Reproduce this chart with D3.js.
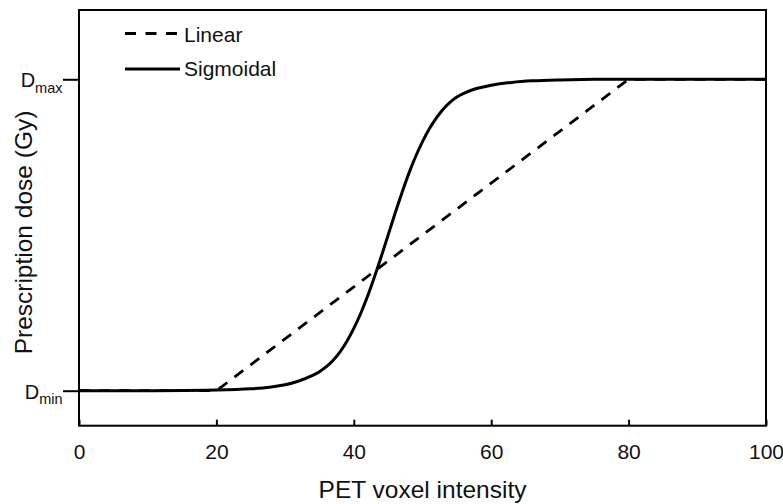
<!DOCTYPE html>
<html>
<head>
<meta charset="utf-8">
<script src="https://cdn.jsdelivr.net/npm/d3@7"></script>
<style>
  html, body { margin: 0; padding: 0; background: #fff; }
  svg { display: block; font-family: "Liberation Sans", Arial, sans-serif; }
</style>
</head>
<body>
<svg id="chart" width="783" height="504"></svg>
<script>
// ---- data ----
const xTicks = [0, 20, 40, 60, 80, 100];
const yTickValues = [0, 1];
const yTickMain = ["D", "D"];
const yTickSub = ["min", "max"];

const linearX = [0, 20, 80, 100];
const linearY = [0, 0, 1, 1];

const sigmoidX = [0, 10, 20, 25, 28, 30, 32, 34, 35, 36, 37, 38, 39, 40, 41, 42, 43, 44, 45, 46, 47, 48, 49, 50, 51, 52, 53, 54, 55, 56, 57, 58, 60, 63, 66, 70, 75, 80, 90, 100];
const sigmoidY = [0, 0, 0.002, 0.006, 0.012, 0.019, 0.031, 0.049, 0.061, 0.077, 0.098, 0.125, 0.159, 0.2, 0.248, 0.303, 0.365, 0.431, 0.5, 0.569, 0.635, 0.697, 0.752, 0.8, 0.841, 0.875, 0.904, 0.926, 0.943, 0.955, 0.964, 0.971, 0.981, 0.99, 0.995, 0.998, 1, 1, 1, 1];

const seriesNames = ["Linear", "Sigmoidal"];
const xLabel = "PET voxel intensity";
const yLabel = "Prescription dose (Gy)";

// ---- layout ----
const svg = d3.select("#chart");
const L = 79, R = 766, T = 10, B = 425.7;

const x = d3.scaleLinear().domain([0, 100]).range([L, R]);
const y = d3.scaleLinear().domain([-0.1124, 1.2225]).range([B, T]);

// lines
const line = d3.line().x(d => x(d[0])).y(d => y(d[1]));
const smooth = d3.line().x(d => x(d[0])).y(d => y(d[1])).curve(d3.curveCatmullRom.alpha(0.5));

svg.append("path")
  .datum(linearX.map((v, i) => [v, linearY[i]]))
  .attr("d", line)
  .attr("fill", "none")
  .attr("stroke", "#000")
  .attr("stroke-width", 2.8)
  .attr("stroke-dasharray", "11,9");

svg.append("path")
  .datum(sigmoidX.map((v, i) => [v, sigmoidY[i]]))
  .attr("d", smooth)
  .attr("fill", "none")
  .attr("stroke", "#000")
  .attr("stroke-width", 3);

// frame
svg.append("rect")
  .attr("x", L).attr("y", T)
  .attr("width", R - L).attr("height", B - T)
  .attr("fill", "none")
  .attr("stroke", "#000")
  .attr("stroke-width", 2);

// x axis: ticks inward, labels below
const xAxis = d3.axisBottom(x).tickValues(xTicks).tickSizeInner(-6).tickSizeOuter(0).tickPadding(0);
const gx = svg.append("g").attr("transform", `translate(0,${B})`).call(xAxis);
gx.select(".domain").remove();
gx.selectAll(".tick line").attr("stroke", "#000").attr("stroke-width", 2);
gx.selectAll(".tick text")
  .attr("y", 33.5).attr("dy", 0)
  .attr("font-size", 21).attr("font-family", "Liberation Sans, Arial, sans-serif")
  .attr("fill", "#111");

// y axis: outward ticks with D_min / D_max labels
const yAxis = d3.axisLeft(y).tickValues(yTickValues).tickSize(16).tickFormat("");
const gy = svg.append("g").attr("transform", `translate(${L},0)`).call(yAxis);
gy.select(".domain").remove();
gy.selectAll(".tick line").attr("stroke", "#000").attr("stroke-width", 2);
gy.selectAll(".tick").each(function(d, i) {
  const t = d3.select(this).append("text")
    .attr("x", -16.5).attr("y", 7.5)
    .attr("text-anchor", "end")
    .attr("fill", "#111")
    .attr("font-family", "Liberation Sans, Arial, sans-serif");
  t.append("tspan").attr("font-size", 20).text(yTickMain[i]);
  t.append("tspan").attr("font-size", 14.5).attr("dy", 5.5).text(yTickSub[i]);
});

// axis titles
svg.append("text")
  .attr("x", 422.5).attr("y", 498)
  .attr("text-anchor", "middle")
  .attr("font-size", 24.5)
  .attr("fill", "#111")
  .text(xLabel);

svg.append("text")
  .attr("transform", `translate(32,232.5) rotate(-90)`)
  .attr("text-anchor", "middle")
  .attr("font-size", 24.5)
  .attr("fill", "#111")
  .text(yLabel);

// legend
const legend = svg.append("g");
legend.append("line")
  .attr("x1", 125).attr("x2", 177).attr("y1", 33.5).attr("y2", 33.5)
  .attr("stroke", "#000").attr("stroke-width", 2.8).attr("stroke-dasharray", "11,9.5");
legend.append("text")
  .attr("x", 184).attr("y", 41.5)
  .attr("font-size", 21).attr("fill", "#111")
  .text(seriesNames[0]);
legend.append("line")
  .attr("x1", 125).attr("x2", 180).attr("y1", 69).attr("y2", 69)
  .attr("stroke", "#000").attr("stroke-width", 3);
legend.append("text")
  .attr("x", 184).attr("y", 76)
  .attr("font-size", 21).attr("fill", "#111")
  .text(seriesNames[1]);
</script>
</body>
</html>
